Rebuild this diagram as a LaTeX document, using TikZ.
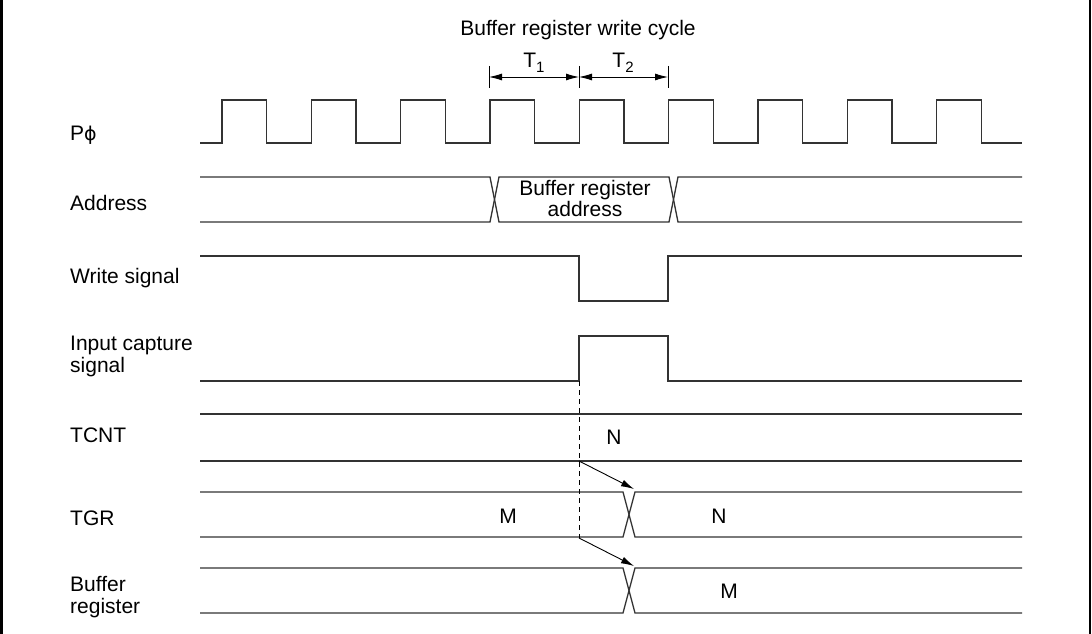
\documentclass[tikz,border=0pt]{standalone}
\usepackage{fontspec}
\setmainfont{Liberation Sans}
\newfontfamily\phifont{DejaVu Sans}
\usetikzlibrary{positioning,arrows.meta}

\begin{document}
\begin{tikzpicture}[x=1pt, y=-1pt,
  sig/.style={line width=1.3pt, black!80},
  lab/.style={anchor=base west, align=left, inner sep=0pt, font=\fontsize{21}{21.5}\selectfont},
  val/.style={inner sep=0pt, font=\fontsize{21}{21}\selectfont},
  dim/.style={{Latex[length=13pt,width=7pt]}-{Latex[length=13pt,width=7pt]}, line width=0.9pt},
  cz/.style={-{Latex[length=13pt,width=7pt]}, line width=0.9pt},
  bar/.style={line width=0.9pt}]

\useasboundingbox (0,0) rectangle (1092,634);
\draw[line width=3pt] (1.5,0) -- (1.5,634);
\draw[line width=2pt] (1090,0) -- (1090,634);

% ---- write cycle marks ---------------------------------------------------
\node[val, anchor=base] (title) at (578,36) {Buffer register write cycle};
\coordinate (dA) at (489,77);
\coordinate (dB) at (579,77);
\coordinate (dC) at (668,77);
\draw[bar] (489,66) -- (489,88) (579,66) -- (579,88) (668,66) -- (668,88);
\draw[dim] (dA) -- (dB);
\draw[dim] (dB) -- (dC);
\node[val, anchor=base] (t1) at (534,67) {T\raisebox{-0.25em}{\fontsize{15}{15}\selectfont 1}};
\node[val, anchor=base] (t2) at (623,67) {T\raisebox{-0.25em}{\fontsize{15}{15}\selectfont 2}};

% ---- signal names (base = last line) --------------------------------------
\node[lab] (lPhi) at (70,140) {P{\phifont\fontsize{19}{19}\selectfont ϕ}};
\node[lab] (lAddr) at (70,210) {Address};
\node[lab] (lWr) at (70,283) {Write signal};
\node[lab] (lIcap) at (70,372) {Input capture\\signal};
\node[lab] (lTcnt) at (70,442) {TCNT};
\node[lab] (lTgr) at (70,525) {TGR};
\node[lab] (lBuf) at (70,613) {Buffer\\register};

% ---- waveforms -----------------------------------------------------------
\draw[sig] (200,143) foreach \i in {0,...,8} {
    -- ({222+89.35*\i},143) -- ({222+89.35*\i},100)
    -- ({266.5+89.35*\i},100) -- ({266.5+89.35*\i},143)} -- (1022,143);

\draw[sig] (200,177) -- (490,177) -- (499,222) -- (669,222) -- (678,177) -- (1022,177);
\draw[sig] (200,222) -- (490,222) -- (499,177) -- (669,177) -- (678,222) -- (1022,222);
\node[val, align=center, anchor=base, font=\fontsize{21}{19}\selectfont] (addr) at (585,216) {Buffer register\\address};

\draw[sig] (200,256) -- (579,256) -- (579,301) -- (668,301) -- (668,256) -- (1022,256);
\draw[sig] (200,381) -- (579,381) -- (579,336) -- (668,336) -- (668,381) -- (1022,381);

\draw[sig] (200,414) -- (1022,414);
\draw[sig] (200,461) -- (1022,461);
\node[val] (tcntN) at (614,437) {N};

\draw[sig] (200,492) -- (623,492) -- (635,537) -- (1022,537);
\draw[sig] (200,537) -- (623,537) -- (635,492) -- (1022,492);
\node[val] (tgrM) at (508,516) {M};
\node[val] (tgrN) at (719,516) {N};

\draw[sig] (200,568) -- (623,568) -- (635,613) -- (1022,613);
\draw[sig] (200,613) -- (623,613) -- (635,568) -- (1022,568);
\node[val] (bufM) at (729,591) {M};

% ---- capture transfer ----------------------------------------------------
\coordinate (cap) at (579,381);
\coordinate (capA) at (579,461);
\coordinate (capB) at (579,538);
\coordinate (tgrX) at (634,489);
\coordinate (bufX) at (634,566);
\draw[bar, dashed, dash pattern=on 5pt off 4pt] (cap) -- (capB);
\draw[cz] (capA) -- (tgrX);
\draw[cz] (capB) -- (bufX);

\end{tikzpicture}
\end{document}
